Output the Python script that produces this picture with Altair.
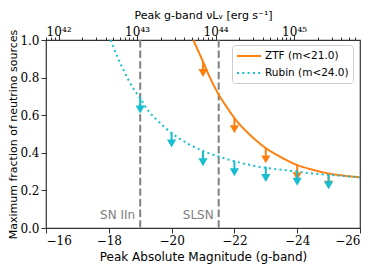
import altair as alt
import pandas as pd

# ---- data ----
series_names = ["ZTF (m<21.0)", "Rubin (m<24.0)"]

ztf_mag = [-20.69, -21.0, -21.25, -21.5, -21.75, -22.0, -22.5, -23.0, -23.5, -24.0, -24.5, -25.0, -25.5, -26.0]
ztf_frac = [1.0, 0.885, 0.79, 0.71, 0.645, 0.585, 0.495, 0.425, 0.375, 0.335, 0.31, 0.29, 0.278, 0.27]

rubin_mag = [-18.06, -18.25, -18.5, -18.75, -19.0, -19.25, -19.5, -19.75, -20.0, -20.5, -21.0, -21.5,
             -22.0, -22.5, -23.0, -23.5, -24.0, -24.5, -25.0, -25.5, -26.0]
rubin_frac = [1.0, 0.92, 0.83, 0.75, 0.69, 0.625, 0.58, 0.54, 0.505, 0.45, 0.41, 0.38,
              0.355, 0.335, 0.32, 0.31, 0.30, 0.29, 0.283, 0.276, 0.27]

ztf_lim_mag = [-21, -22, -23, -24, -25]
ztf_lim_frac = [0.885, 0.585, 0.425, 0.335, 0.29]
rubin_lim_mag = [-19, -20, -21, -22, -23, -24, -25]
rubin_lim_frac = [0.69, 0.51, 0.41, 0.357, 0.326, 0.306, 0.287]

class_mag = [-19.0, -21.5]
class_names = ["SN IIn", "SLSN"]

mag_ticks = [-16, -18, -20, -22, -24, -26]
frac_ticks = [0.0, 0.2, 0.4, 0.6, 0.8, 1.0]
lum_major = [1e42, 1e43, 1e44, 1e45]
lum_minor = [7e41, 8e41, 9e41,
             2e42, 3e42, 4e42, 5e42, 6e42, 7e42, 8e42, 9e42,
             2e43, 3e43, 4e43, 5e43, 6e43, 7e43, 8e43, 9e43,
             2e44, 3e44, 4e44, 5e44, 6e44, 7e44, 8e44, 9e44,
             2e45, 3e45, 4e45, 5e45, 6e45]

ORANGE = "#ff7f0e"
CYAN = "#17becf"
GRAY = "#808080"
SERIF = "DejaVu Serif"
SANS = "DejaVu Sans"

mag_dom = [-16, -26]
lum_dom = [10 ** 41.84, 10 ** 45.84]

line_df = pd.concat([
    pd.DataFrame({"mag": ztf_mag, "frac": ztf_frac, "series": series_names[0]}),
    pd.DataFrame({"mag": rubin_mag, "frac": rubin_frac, "series": series_names[1]}),
])

bottom_axis = alt.Axis(values=mag_ticks, format="d", title="Peak Absolute Magnitude (g-band)",
                       grid=False, domain=False, tickSize=5, labelPadding=2, titlePadding=5,
                       labelFontSize=12, titleFontSize=12)
left_axis = alt.Axis(values=frac_ticks, format=".1f", title="Maximum fraction of neutrino sources",
                     grid=False, domain=False, tickSize=5, labelPadding=2, titlePadding=1,
                     labelFontSize=12, titleFontSize=11)


def X(field):
    return alt.X(field, type="quantitative", scale=alt.Scale(domain=mag_dom, nice=False, zero=False), axis=bottom_axis)


def Y(field):
    return alt.Y(field, type="quantitative", scale=alt.Scale(domain=[0, 1], nice=False), axis=left_axis)


leg = alt.Legend(title=None)

vlines = alt.Chart(pd.DataFrame({"mag": class_mag, "name": class_names})).mark_rule(
    color=GRAY, strokeDash=[7.4, 3.2], strokeWidth=2
).encode(x=X("mag"))

vtext = alt.Chart(pd.DataFrame({"mag": class_mag, "name": class_names})).mark_text(
    align="right", baseline="middle", dx=-5, font=SANS, fontSize=12, color=GRAY
).encode(x=X("mag"), y=alt.value(175), text="name:N")

lines = alt.Chart(line_df).mark_line(strokeWidth=2, clip=True, interpolate="monotone").encode(
    x=X("mag"),
    y=Y("frac"),
    color=alt.Color("series:N", scale=alt.Scale(domain=series_names, range=[ORANGE, CYAN]), legend=leg),
    strokeDash=alt.StrokeDash("series:N", scale=alt.Scale(domain=series_names, range=[[1, 0], [2, 3.3]]), legend=leg),
)


def arrows(mags, fracs, color):
    base = alt.Chart(pd.DataFrame({"mag": mags, "frac": fracs})).transform_calculate(
        stem_end="datum.frac - 0.045", head="datum.frac - 0.06"
    )
    stem = base.mark_rule(color=color, strokeWidth=2).encode(x=X("mag"), y=Y("frac"), y2="stem_end:Q")
    head = base.mark_point(shape="triangle-down", filled=True, size=85, color=color, opacity=1).encode(
        x=X("mag"), y=Y("head"))
    return stem + head


main = alt.layer(vlines, vtext, lines, arrows(ztf_lim_mag, ztf_lim_frac, ORANGE),
                 arrows(rubin_lim_mag, rubin_lim_frac, CYAN))

sup_expr = ("'10' + (datum.value < 5e42 ? '⁴²' : datum.value < 5e43 ? '⁴³' : "
            "datum.value < 5e44 ? '⁴⁴' : '⁴⁵')")

top_major = alt.Chart(pd.DataFrame({"lum": lum_major})).mark_point(opacity=0).encode(
    x=alt.X("lum:Q", scale=alt.Scale(type="log", domain=lum_dom, nice=False),
            axis=alt.Axis(orient="top", values=lum_major, labelExpr=sup_expr, tickSize=5,
                          domain=False, grid=False, labelPadding=-3, titlePadding=5,
                          labelFontSize=12, titleFontSize=11,
                          title="Peak g-band νLᵥ [erg s⁻¹]"))
)
top_minor = alt.Chart(pd.DataFrame({"lum": lum_minor})).mark_point(opacity=0).encode(
    x=alt.X("lum2:Q", scale=alt.Scale(type="log", domain=lum_dom, nice=False),
            axis=alt.Axis(orient="top", values=lum_minor, labels=False, tickSize=3,
                          domain=False, grid=False, title=None))
).transform_calculate(lum2="datum.lum")

chart = alt.layer(main, top_major, top_minor).resolve_scale(x="independent").properties(
    width=314, height=188, autosize="none",
    padding={"left": 38, "top": 32, "right": 5, "bottom": 40},
).configure_view(stroke="#333", strokeWidth=1.2).configure_axis(
    labelFont=SERIF, labelColor="#000", tickColor="#333", tickWidth=1,
    titleFont=SANS, titleFontWeight="normal", titleColor="#000",
).configure_legend(
    orient="none", legendX=186, legendY=5, padding=4, strokeColor="#cccccc", fillColor="white",
    cornerRadius=3, labelFont=SANS, labelFontSize=10.5, labelColor="#000",
    symbolType="M-1,0H3", symbolSize=144, symbolStrokeWidth=2, labelOffset=15, rowPadding=4,
)

chart.save("out.html", embed_options={"renderer": "svg", "actions": False})
